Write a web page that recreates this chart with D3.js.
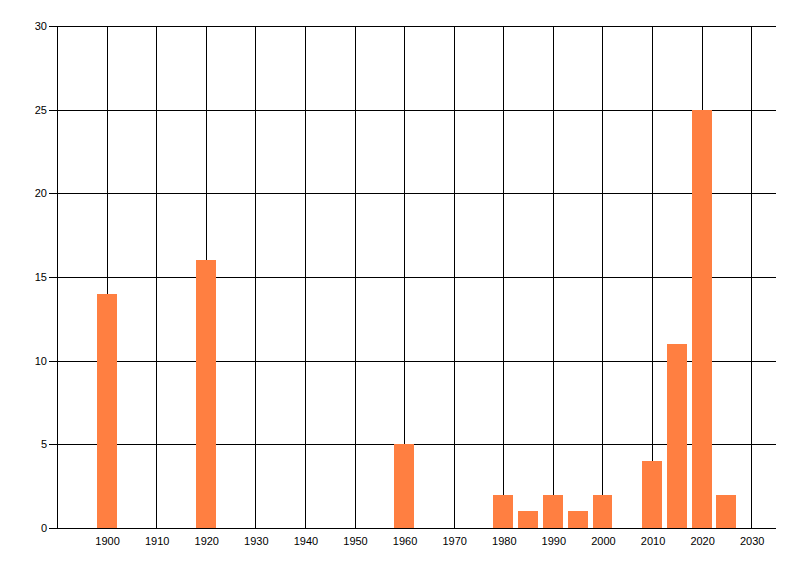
<!doctype html>
<html lang="en">
<head>
    <meta charset="UTF-8">
    <title>d3 bar chart</title>
    <script src="https://d3js.org/d3.v7.min.js"></script>
    <style>
        body { margin: 0; background: #fff; }
        .grid line { stroke: #000; stroke-width: 1px; shape-rendering: crispEdges; }
        .bar { fill: #ff7f41; shape-rendering: crispEdges; }
        text { font-family: "Liberation Sans", Arial, sans-serif; font-size: 11px; fill: #000; }
    </style>
</head>
<body>
<div class="canvas"></div>
<script>
  // data
  const years = [1900, 1920, 1960, 1980, 1985, 1990, 1995, 2000, 2010, 2015, 2020, 2025];
  const counts = [14, 16, 5, 2, 1, 2, 1, 2, 4, 11, 25, 2];
  const xTicks = [1900, 1910, 1920, 1930, 1940, 1950, 1960, 1970, 1980, 1990, 2000, 2010, 2020, 2030];
  const yTicks = [0, 5, 10, 15, 20, 25, 30];

  const width = 800, height = 576;
  const plotLeft = 57, plotRight = 776, plotTop = 26, plotBottom = 528;

  const x = d3.scaleLinear().domain([1890, 2035]).range([plotLeft, plotRight]);
  const y = d3.scaleLinear().domain([0, 30]).range([plotBottom, plotTop]);

  const svg = d3.select('.canvas')
    .append('svg')
    .attr('width', width)
    .attr('height', height);

  const grid = svg.append('g').attr('class', 'grid');

  // vertical grid lines
  grid.selectAll('line.v')
    .data(xTicks)
    .join('line')
    .attr('class', 'v')
    .attr('x1', d => Math.round(x(d)) + 0.5)
    .attr('x2', d => Math.round(x(d)) + 0.5)
    .attr('y1', plotTop)
    .attr('y2', plotBottom);

  // horizontal grid lines, with a small tick on the left
  grid.selectAll('line.h')
    .data(yTicks)
    .join('line')
    .attr('class', 'h')
    .attr('x1', plotLeft - 8)
    .attr('x2', plotRight)
    .attr('y1', d => Math.round(y(d)) + 0.5)
    .attr('y2', d => Math.round(y(d)) + 0.5);

  // left axis line
  grid.append('line')
    .attr('x1', plotLeft + 0.5).attr('x2', plotLeft + 0.5)
    .attr('y1', plotTop).attr('y2', plotBottom + 1);

  // bars (4 years wide)
  svg.append('g')
    .selectAll('rect')
    .data(years.map((yr, i) => ({ yr, v: counts[i] })))
    .join('rect')
    .attr('class', 'bar')
    .attr('x', d => Math.round(x(d.yr - 2)))
    .attr('width', d => Math.round(x(d.yr + 2)) - Math.round(x(d.yr - 2)))
    .attr('y', d => Math.round(y(d.v)))
    .attr('height', d => Math.round(y(0)) - Math.round(y(d.v)));

  // y labels
  svg.append('g')
    .selectAll('text')
    .data(yTicks)
    .join('text')
    .attr('x', plotLeft - 10)
    .attr('y', d => y(d))
    .attr('dy', '0.35em')
    .attr('text-anchor', 'end')
    .text(d => d);

  // x labels
  svg.append('g')
    .selectAll('text')
    .data(xTicks)
    .join('text')
    .attr('x', d => x(d) + 1)
    .attr('y', plotBottom + 17)
    .attr('text-anchor', 'middle')
    .text(d => d);
</script>
</body>
</html>
